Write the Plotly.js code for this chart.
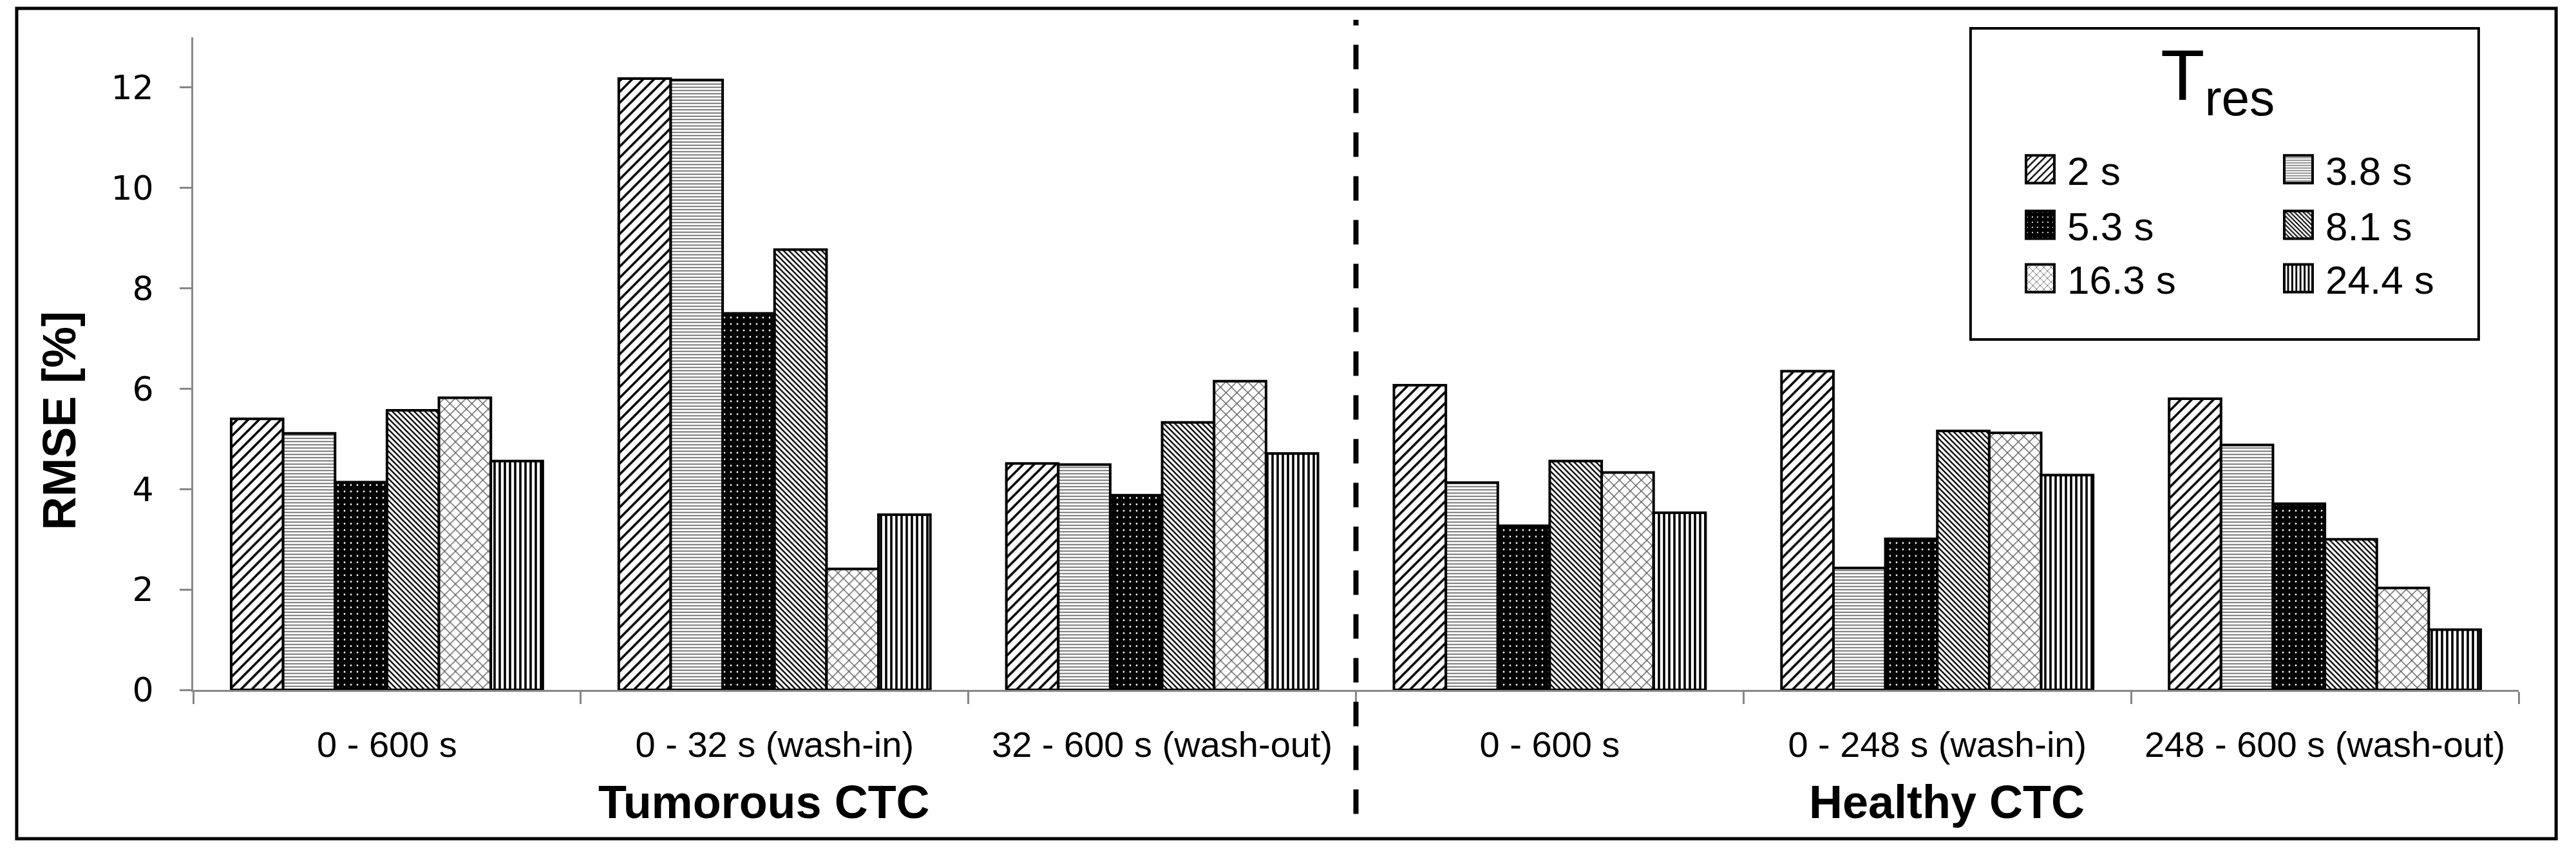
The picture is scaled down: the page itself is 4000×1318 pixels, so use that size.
<!DOCTYPE html>
<html><head><meta charset="utf-8">
<script src="https://cdn.plot.ly/plotly-3.0.1.min.js"></script>
<style>html,body{margin:0;padding:0;background:#fff}#chart{width:4000px;height:1318px}</style>
</head><body><div id="chart"></div>
<script>
// ---- data ----
const categories = ["0 - 600 s", "0 - 32 s (wash-in)", "32 - 600 s (wash-out)", "0 - 600 s", "0 - 248 s (wash-in)", "248 - 600 s (wash-out)"];
const groupLabels = ["Tumorous CTC", "Healthy CTC"];
const seriesNames = ["2 s", "3.8 s", "5.3 s", "8.1 s", "16.3 s", "24.4 s"];
const rmse_2s   = [5.40, 12.18, 4.51, 6.07, 6.35, 5.80];
const rmse_3_8s = [5.11, 12.15, 4.49, 4.13, 2.43, 4.88];
const rmse_5_3s = [4.14, 7.50, 3.88, 3.27, 3.01, 3.71];
const rmse_8_1s = [5.57, 8.77, 5.33, 4.56, 5.16, 3.00];
const rmse_16_3s = [5.82, 2.41, 6.15, 4.33, 5.12, 2.03];
const rmse_24_4s = [4.56, 3.49, 4.71, 3.53, 4.28, 1.20];
const yTicks = [0, 2, 4, 6, 8, 10, 12];
const legendTitle = "T<sub>res</sub>";
const yTitle = "RMSE [%]";

// ---- styling ----
const seriesValues = [rmse_2s, rmse_3_8s, rmse_5_3s, rmse_8_1s, rmse_16_3s, rmse_24_4s];
const patterns = [
  {shape: "/", fgcolor: "#000", bgcolor: "#fff", size: 12, solidity: 0.3},
  {shape: "-", fgcolor: "#666", bgcolor: "#fff", size: 5, solidity: 0.35},
  {shape: ".", fgcolor: "#fff", bgcolor: "#000", size: 10, solidity: 0.06},
  {shape: "\\", fgcolor: "#000", bgcolor: "#fff", size: 6, solidity: 0.4},
  {shape: "x", fgcolor: "#555", bgcolor: "#fff", size: 12, solidity: 0.2},
  {shape: "|", fgcolor: "#000", bgcolor: "#fff", size: 8, solidity: 0.45}
];
const legendIds = ["legend", "legend", "legend2", "legend2", "legend3", "legend3"];
const xPos = categories.map((c, i) => i);
const boundaries = categories.map((c, i) => i - 0.5).concat([categories.length - 0.5]);

const traces = seriesNames.map((name, k) => ({
  type: "bar",
  name: name,
  legend: legendIds[k],
  x: xPos,
  y: seriesValues[k],
  marker: {
    color: patterns[k].bgcolor,
    line: {color: "#000", width: 4},
    pattern: Object.assign({fillmode: "replace"}, patterns[k])
  },
  hoverinfo: "skip"
}));

const FONT = "Liberation Sans, Arial, sans-serif";
function legendRow(y) {
  return {
    orientation: "h",
    x: 0.7826, xanchor: "left",
    y: y, yanchor: "top",
    bgcolor: "rgba(0,0,0,0)", borderwidth: 0,
    font: {family: FONT, size: 62, color: "#000"},
    itemwidth: 74,
    entrywidth: 312, entrywidthmode: "pixels",
    traceorder: "normal",
    itemclick: false, itemdoubleclick: false
  };
}
const layout = {
  width: 4000, height: 1318,
  margin: {l: 300, r: 89, t: 58, b: 247, autoexpand: false},
  paper_bgcolor: "#fff", plot_bgcolor: "#fff",
  barmode: "group", bargap: 0.196, bargroupgap: 0,
  showlegend: true,
  font: {family: FONT, color: "#000"},
  xaxis: {
    range: [-0.5, categories.length - 0.5],
    tickmode: "array", tickvals: xPos, ticktext: categories,
    ticks: "", ticklen: 0,
    minor: {tickmode: "array", tickvals: boundaries, ticks: "outside", ticklen: 19, tickcolor: "#868686", tickwidth: 3},
    ticklabelstandoff: 34,
    tickfont: {family: FONT, size: 56, color: "#000"},
    showline: true, linecolor: "#868686", linewidth: 3,
    showgrid: false, zeroline: false, fixedrange: true
  },
  yaxis: {
    range: [0, 13],
    tickmode: "array", tickvals: yTicks, ticktext: yTicks.map(String),
    ticks: "outside", ticklen: 18, tickcolor: "#868686", tickwidth: 3,
    ticklabelstandoff: 30,
    tickfont: {family: "DejaVu Sans, Verdana, sans-serif", size: 52, color: "#000"},
    showline: true, linecolor: "#868686", linewidth: 3,
    showgrid: false, zeroline: false, fixedrange: true
  },
  legend: legendRow(0.844),
  legend2: legendRow(0.759),
  legend3: legendRow(0.677),
  shapes: [
    {type: "rect", xref: "paper", yref: "paper", x0: -0.0759, x1: 1.0161, y0: -0.228, y1: 1.0444,
     line: {color: "#000", width: 5}, fillcolor: "rgba(0,0,0,0)"},
    {type: "rect", xref: "paper", yref: "paper", x0: 0.7643, x1: 0.9828, y0: 0.537, y1: 1.0138,
     line: {color: "#000", width: 4}, fillcolor: "#fff", layer: "above"},
    {type: "line", xref: "paper", yref: "paper", x0: 0.5, x1: 0.5, y0: -0.19, y1: 1.027,
     line: {color: "#000", width: 8, dash: "38px,30px"}}
  ],
  annotations: [
    {text: "<b>" + yTitle + "</b>", xref: "paper", yref: "paper", x: -0.0576, y: 0.4126,
     xanchor: "center", yanchor: "middle",
     textangle: -90, showarrow: false, font: {family: FONT, size: 72, color: "#000"}},
    {text: "<b>" + groupLabels[0] + "</b>", xref: "paper", yref: "paper", x: 0.2454, y: -0.172,
     xanchor: "center", yanchor: "middle",
     showarrow: false, font: {family: FONT, size: 72, color: "#000"}},
    {text: "<b>" + groupLabels[1] + "</b>", xref: "paper", yref: "paper", x: 0.754, y: -0.172,
     xanchor: "center", yanchor: "middle",
     showarrow: false, font: {family: FONT, size: 72, color: "#000"}},
    {text: legendTitle, xref: "paper", yref: "paper", x: 0.8704, y: 0.934,
     xanchor: "center", yanchor: "middle",
     showarrow: false, font: {family: FONT, size: 112, color: "#000"}}
  ]
};

Plotly.newPlot("chart", traces, layout, {staticPlot: true, displayModeBar: false}).then(gd => {
  gd.querySelectorAll(".legendpoints path").forEach(p => {
    p.setAttribute("d", "M22,21.5H-22V-21.5H22Z");
    p.style.strokeWidth = "4px";
  });
});
</script>
</body></html>
